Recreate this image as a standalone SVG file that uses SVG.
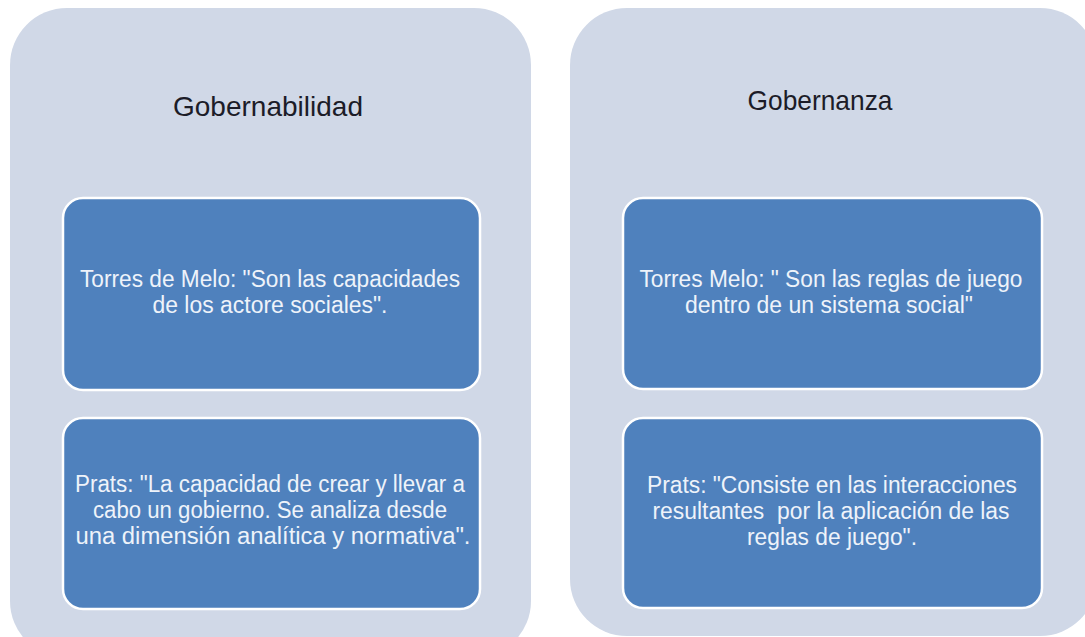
<svg xmlns="http://www.w3.org/2000/svg" width="1085" height="637" viewBox="0 0 1085 637">
<style>
.panel{fill:#D0D8E7;}
.box{fill:#4F81BD;stroke:#FFFFFF;stroke-width:2.5;}
.title{font-family:"Liberation Sans",Arial,sans-serif;font-size:28px;fill:#1C1C28;text-anchor:middle;}
.txt{font-family:"Liberation Sans",Arial,sans-serif;font-size:23.5px;fill:#EEF3FA;text-anchor:middle;}
</style>
<rect width="1085" height="637" fill="#FFFFFF"/>
<g id="gobernabilidad">
<rect class="panel" x="10" y="8" width="521" height="650" rx="57" ry="57"/>
<text class="title" x="268" y="116" textLength="190" lengthAdjust="spacingAndGlyphs">Gobernabilidad</text>
</g>
<g id="gobernanza">
<rect class="panel" x="570" y="8" width="527" height="628" rx="57" ry="57"/>
<text class="title" x="820" y="110" textLength="145" lengthAdjust="spacingAndGlyphs">Gobernanza</text>
</g>
<g id="torres-gobernabilidad">
<rect class="box" x="63" y="198" width="417" height="192" rx="20" ry="20"/>
<text class="txt" x="270" y="287" textLength="380" lengthAdjust="spacingAndGlyphs">Torres de Melo: "Son las capacidades</text>
<text class="txt" x="270" y="313" textLength="235" lengthAdjust="spacingAndGlyphs">de los actore sociales".</text>
</g>
<g id="prats-gobernabilidad">
<rect class="box" x="63" y="418" width="417" height="191" rx="20" ry="20"/>
<text class="txt" x="270" y="492" textLength="390" lengthAdjust="spacingAndGlyphs">Prats: "La capacidad de crear y llevar a</text>
<text class="txt" x="270" y="518" textLength="354" lengthAdjust="spacingAndGlyphs">cabo un gobierno. Se analiza desde</text>
<text class="txt" x="273" y="544" textLength="395" lengthAdjust="spacingAndGlyphs">una dimensión analítica y normativa".</text>
</g>
<g id="torres-gobernanza">
<rect class="box" x="623" y="198" width="419" height="191" rx="20" ry="20"/>
<text class="txt" x="831" y="287" textLength="383" lengthAdjust="spacingAndGlyphs">Torres Melo: " Son las reglas de juego</text>
<text class="txt" x="829" y="313" textLength="288" lengthAdjust="spacingAndGlyphs">dentro de un sistema social"</text>
</g>
<g id="prats-gobernanza">
<rect class="box" x="623" y="418" width="419" height="190" rx="20" ry="20"/>
<text class="txt" x="832" y="493" textLength="370" lengthAdjust="spacingAndGlyphs">Prats: "Consiste en las interacciones</text>
<text class="txt" x="831" y="519" textLength="357" lengthAdjust="spacingAndGlyphs" xml:space="preserve">resultantes  por la aplicación de las</text>
<text class="txt" x="832" y="545" textLength="170" lengthAdjust="spacingAndGlyphs">reglas de juego".</text>
</g>
<g id="connectors"></g>
</svg>
